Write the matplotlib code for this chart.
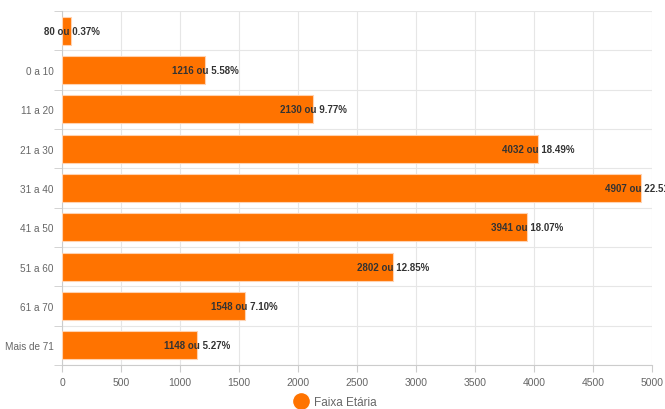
import matplotlib
matplotlib.use("Agg")
import matplotlib.pyplot as plt
from matplotlib.lines import Line2D
import numpy as np

plt.rcParams["font.family"] = ["Liberation Sans", "DejaVu Sans"]

categories = ["", "0 a 10", "11 a 20", "21 a 30", "31 a 40", "41 a 50", "51 a 60", "61 a 70", "Mais de 71"]
values = [80, 1216, 2130, 4032, 4907, 3941, 2802, 1548, 1148]
percents = ["0.37%", "5.58%", "9.77%", "18.49%", "22.51%", "18.07%", "12.85%", "7.10%", "5.27%"]
xticks = [0, 500, 1000, 1500, 2000, 2500, 3000, 3500, 4000, 4500, 5000]
series_name = "Faixa Etária"

orange = "#FF7300"
grid_c = "#e6e6e6"
text_c = "#666666"

fig = plt.figure(figsize=(6.65, 4.10), dpi=100)
ax = fig.add_axes([62/665, 44/410, 590/665, 354/410])

n = len(categories)
y = np.arange(n)
ax.barh(y, values, height=0.72, color=orange, edgecolor="#ffd2b0", linewidth=0.8, zorder=3)

for yi, v, p in zip(y, values, percents):
    ax.text(v, yi, f"{v} ou {p}", ha="center", va="center", fontsize=7,
            fontweight="bold", color="#333333", zorder=4, clip_on=False)

ax.set_xlim(0, 5000)
ax.set_ylim(n - 0.5, -0.5)
ax.set_xticks(xticks)
ax.set_xticklabels([str(t) for t in xticks], fontsize=7.5, color=text_c)
ax.set_yticks(y)
ax.set_yticklabels(categories, fontsize=7.2, color=text_c)
ax.set_yticks(np.arange(-0.5, n, 1.0), minor=True)
ax.tick_params(axis="y", which="major", length=0, pad=6)
ax.tick_params(axis="y", which="minor", length=6, color="#cccccc")
ax.tick_params(axis="x", length=5, color="#cccccc", pad=4)

ax.grid(axis="x", which="major", color=grid_c, linewidth=0.8, zorder=0)
ax.grid(axis="y", which="minor", color=grid_c, linewidth=0.8, zorder=0)
ax.grid(axis="y", which="major", visible=False)

for s in ["top", "right"]:
    ax.spines[s].set_visible(False)
ax.spines["left"].set_color("#cccccc")
ax.spines["bottom"].set_color("#cccccc")

handle = Line2D([0], [0], marker="o", color="w", markerfacecolor=orange, markersize=13, linestyle="")
fig.legend([handle], [series_name], loc="lower center", bbox_to_anchor=(0.5, -0.024),
           frameon=False, fontsize=8.5, handletextpad=0.1, labelcolor=text_c)

fig.savefig("out.png", dpi=100)
